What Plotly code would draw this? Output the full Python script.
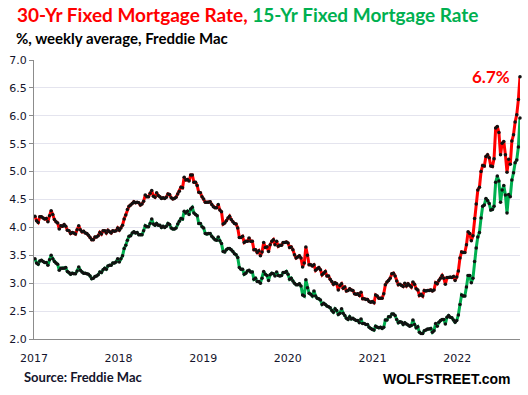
import pandas as pd
import plotly.graph_objects as go

# 30-Yr fixed mortgage rate, weekly (%), Freddie Mac
rate30_2017 = [4.20, 4.12, 4.09, 4.19, 4.19, 4.17, 4.15, 4.16, 4.10, 4.21, 4.30, 4.23, 4.14,
               4.10, 4.08, 3.97, 4.03, 4.02, 4.05, 4.02, 3.95, 3.94, 3.89, 3.91, 3.90, 3.88,
               3.96, 4.03, 3.96, 3.92, 3.93, 3.90, 3.89, 3.86, 3.82, 3.78, 3.78, 3.83, 3.83,
               3.85, 3.91, 3.88, 3.94, 3.94, 3.90, 3.95, 3.92, 3.90, 3.94, 3.93, 3.94, 3.99]
rate30_2018 = [3.95, 3.99, 4.04, 4.15, 4.22, 4.32, 4.38, 4.40, 4.43, 4.46, 4.44, 4.45, 4.44,
               4.40, 4.42, 4.47, 4.58, 4.55, 4.55, 4.61, 4.66, 4.56, 4.54, 4.62, 4.57, 4.55,
               4.52, 4.53, 4.52, 4.54, 4.60, 4.59, 4.53, 4.51, 4.52, 4.54, 4.60, 4.65, 4.72,
               4.71, 4.90, 4.85, 4.86, 4.83, 4.94, 4.94, 4.81, 4.81, 4.75, 4.63, 4.62, 4.55]
rate30_2019 = [4.51, 4.45, 4.45, 4.45, 4.46, 4.41, 4.37, 4.35, 4.35, 4.41, 4.31, 4.28, 4.06,
               4.08, 4.12, 4.17, 4.20, 4.14, 4.10, 4.07, 4.06, 3.99, 3.82, 3.82, 3.84, 3.73,
               3.75, 3.75, 3.81, 3.75, 3.75, 3.60, 3.60, 3.55, 3.58, 3.49, 3.56, 3.73, 3.64,
               3.65, 3.57, 3.69, 3.75, 3.78, 3.69, 3.75, 3.66, 3.68, 3.68, 3.73, 3.73, 3.74]
rate30_2020 = [3.72, 3.64, 3.65, 3.60, 3.51, 3.45, 3.47, 3.49, 3.45, 3.29, 3.36, 3.65, 3.50,
               3.33, 3.33, 3.31, 3.33, 3.23, 3.26, 3.28, 3.24, 3.15, 3.18, 3.21, 3.13, 3.13,
               3.07, 3.03, 2.98, 3.01, 2.99, 2.88, 2.96, 2.99, 2.91, 2.93, 2.86, 2.87, 2.90,
               2.88, 2.87, 2.81, 2.80, 2.81, 2.78, 2.84, 2.72, 2.72, 2.71, 2.71, 2.67, 2.66, 2.67]
rate30_2021 = [2.65, 2.79, 2.77, 2.73, 2.73, 2.73, 2.81, 2.97, 3.02, 3.05, 3.09, 3.17, 3.18,
               3.13, 3.04, 2.97, 2.98, 2.96, 2.94, 3.00, 2.95, 2.99, 2.96, 2.93, 3.02, 2.98,
               2.90, 2.88, 2.78, 2.80, 2.77, 2.87, 2.86, 2.87, 2.87, 2.88, 2.86, 2.88, 3.01,
               2.99, 3.05, 3.09, 3.14, 3.09, 2.98, 3.10, 3.10, 3.11, 3.10, 3.12, 3.05, 3.11]
rate30_2022 = [3.22, 3.45, 3.56, 3.55, 3.55, 3.69, 3.92, 3.89, 3.76, 3.85, 4.16, 4.42, 4.67,
               4.72, 5.00, 5.11, 5.10, 5.27, 5.30, 5.25, 5.10, 5.09, 5.23, 5.78, 5.81, 5.70,
               5.30, 5.51, 5.54, 5.30, 4.99, 5.22, 5.13, 5.55, 5.66, 5.89, 6.02, 6.29, 6.70]

# 15-Yr fixed mortgage rate, weekly (%), Freddie Mac
rate15_2017 = [3.44, 3.36, 3.34, 3.40, 3.41, 3.39, 3.37, 3.37, 3.32, 3.42, 3.50, 3.44, 3.39,
               3.36, 3.34, 3.23, 3.27, 3.27, 3.27, 3.28, 3.21, 3.19, 3.16, 3.18, 3.17, 3.17,
               3.22, 3.29, 3.23, 3.20, 3.18, 3.18, 3.17, 3.16, 3.13, 3.08, 3.09, 3.12, 3.13,
               3.15, 3.20, 3.19, 3.24, 3.27, 3.25, 3.31, 3.32, 3.32, 3.36, 3.36, 3.38, 3.44]
rate15_2018 = [3.38, 3.44, 3.49, 3.62, 3.68, 3.77, 3.84, 3.85, 3.90, 3.92, 3.90, 3.91, 3.87,
               3.87, 3.87, 3.94, 4.03, 4.01, 4.01, 4.07, 4.15, 4.06, 4.04, 4.07, 4.04, 4.04,
               4.00, 4.02, 4.00, 4.02, 4.07, 4.05, 3.99, 3.97, 3.97, 3.99, 4.06, 4.11, 4.16,
               4.15, 4.29, 4.26, 4.29, 4.23, 4.33, 4.36, 4.26, 4.23, 4.21, 4.07, 4.07, 4.01]
rate15_2019 = [3.99, 3.89, 3.88, 3.89, 3.89, 3.84, 3.81, 3.78, 3.77, 3.83, 3.76, 3.71, 3.57,
               3.56, 3.60, 3.62, 3.62, 3.60, 3.57, 3.53, 3.51, 3.46, 3.28, 3.25, 3.25, 3.16,
               3.18, 3.22, 3.23, 3.20, 3.20, 3.07, 3.09, 3.03, 3.03, 3.00, 3.09, 3.21, 3.16,
               3.14, 3.05, 3.15, 3.18, 3.17, 3.13, 3.20, 3.14, 3.13, 3.14, 3.19, 3.19, 3.21]
rate15_2020 = [3.16, 3.07, 3.09, 3.04, 3.00, 2.97, 2.97, 2.99, 2.95, 2.79, 2.77, 3.06, 2.92,
               2.82, 2.80, 2.77, 2.86, 2.77, 2.73, 2.72, 2.70, 2.62, 2.64, 2.62, 2.59, 2.58,
               2.56, 2.51, 2.48, 2.54, 2.51, 2.44, 2.46, 2.54, 2.46, 2.42, 2.37, 2.35, 2.40,
               2.36, 2.37, 2.35, 2.33, 2.33, 2.29, 2.36, 2.28, 2.28, 2.26, 2.26, 2.21, 2.19, 2.17]
rate15_2021 = [2.16, 2.23, 2.21, 2.20, 2.21, 2.19, 2.21, 2.34, 2.34, 2.40, 2.40, 2.45, 2.45,
               2.42, 2.35, 2.29, 2.31, 2.30, 2.26, 2.29, 2.27, 2.25, 2.23, 2.24, 2.34, 2.26,
               2.20, 2.22, 2.12, 2.10, 2.10, 2.15, 2.16, 2.18, 2.18, 2.19, 2.12, 2.15, 2.28,
               2.23, 2.30, 2.33, 2.35, 2.35, 2.27, 2.39, 2.42, 2.39, 2.38, 2.34, 2.30, 2.33]
rate15_2022 = [2.43, 2.62, 2.79, 2.77, 2.77, 2.93, 3.14, 3.14, 3.01, 3.09, 3.39, 3.63, 3.83,
               3.91, 4.17, 4.38, 4.40, 4.52, 4.48, 4.43, 4.31, 4.32, 4.38, 4.81, 4.92, 4.83,
               4.45, 4.67, 4.75, 4.58, 4.26, 4.59, 4.55, 4.85, 4.98, 5.16, 5.21, 5.44, 5.96]

year_ticks = ["2017", "2018", "2019", "2020", "2021", "2022"]
y_ticks = [2.0, 2.5, 3.0, 3.5, 4.0, 4.5, 5.0, 5.5, 6.0, 6.5, 7.0]
last_label = "6.7%"

rate30 = rate30_2017 + rate30_2018 + rate30_2019 + rate30_2020 + rate30_2021 + rate30_2022
rate15 = rate15_2017 + rate15_2018 + rate15_2019 + rate15_2020 + rate15_2021 + rate15_2022
dates30 = pd.date_range("2017-01-05", periods=len(rate30), freq="7D")
dates15 = pd.date_range("2017-01-05", periods=len(rate15), freq="7D")

RED = "#ff0000"
GREEN = "#00b050"
TXT = "#14142b"

fig = go.Figure()
fig.add_trace(go.Scatter(
    x=dates15, y=rate15, mode="lines+markers",
    line=dict(color=GREEN, width=3),
    marker=dict(color="#111111", size=3.5),
    cliponaxis=False, showlegend=False))
fig.add_trace(go.Scatter(
    x=dates30, y=rate30, mode="lines+markers",
    line=dict(color=RED, width=3),
    marker=dict(color="#111111", size=3.5),
    cliponaxis=False, showlegend=False))

W, H = 528, 395
ml, mr, mt, mb = 34, 8, 60, 56
pw, ph = W - ml - mr, H - mt - mb

def px(xp):
    return (xp - ml) / pw

def py(yp):
    return (H - mb - yp) / ph

fig.update_layout(
    width=W, height=H,
    margin=dict(l=ml, r=mr, t=mt, b=mb, autoexpand=False),
    paper_bgcolor="white", plot_bgcolor="white",
    font=dict(family="DejaVu Sans", size=11, color=TXT),
    xaxis=dict(
        type="date",
        range=["2017-01-01", str(dates30[-1].date())],
        tickvals=[f"{y}-01-01" for y in year_ticks],
        ticktext=year_ticks,
        showgrid=False, zeroline=False,
        showline=True, linecolor="#8c8c8c", linewidth=1,
        ticks="", ticklabelstandoff=9,
        tickfont=dict(family="DejaVu Sans", size=11, color=TXT),
    ),
    yaxis=dict(
        range=[2.0, 7.0],
        tickvals=y_ticks,
        tickformat=".1f",
        showgrid=True, gridcolor="#e4e4ee", gridwidth=1,
        zeroline=False,
        showline=True, linecolor="#8c8c8c", linewidth=1,
        ticks="outside", ticklen=4, tickcolor="#8c8c8c",
        tickfont=dict(family="DejaVu Sans", size=11, color=TXT),
    ),
    annotations=[
        dict(xref="paper", yref="paper", x=px(15), y=py(15),
             xanchor="left", yanchor="middle", showarrow=False,
             text=f"<span style='color:{RED}'>30-Yr Fixed Mortgage Rate,</span> "
                  f"<span style='color:{GREEN}'>15-Yr Fixed Mortgage Rate</span>",
             font=dict(family="Lato", size=19, color=RED, weight="bold")),
        dict(xref="paper", yref="paper", x=px(14), y=py(38),
             xanchor="left", yanchor="middle", showarrow=False,
             text="%, weekly average, Freddie Mac",
             font=dict(family="Lato", size=15, color="#000000", weight="bold")),
        dict(xref="paper", yref="paper", x=px(22), y=py(377),
             xanchor="left", yanchor="middle", showarrow=False,
             text="Source: Freddie Mac",
             font=dict(family="Lato", size=13, color=TXT, weight="bold")),
        dict(xref="paper", yref="paper", x=px(513), y=py(379),
             xanchor="right", yanchor="middle", showarrow=False,
             text="WOLFSTREET.com",
             font=dict(family="Liberation Sans", size=14, color="#000000", weight="bold")),
        dict(xref="x", yref="y", x=dates30[-1], y=rate30[-1],
             xanchor="right", yanchor="middle", xshift=-8, showarrow=False,
             text=last_label,
             font=dict(family="Lato", size=17, color=RED, weight="bold")),
    ],
)

fig.write_html(
    "out.html",
    config={"displayModeBar": False},
    post_script="document.body.style.margin='0px';document.body.style.overflow='hidden';",
)
